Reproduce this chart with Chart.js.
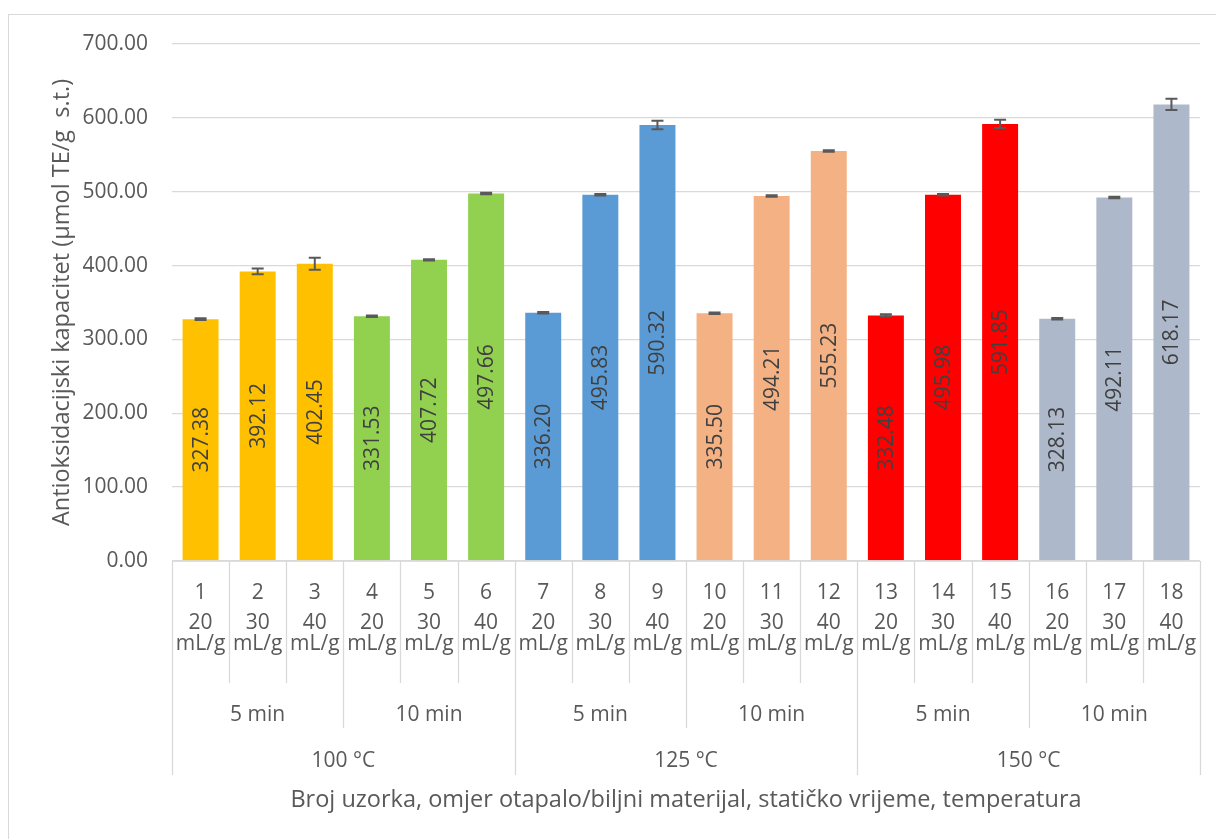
<!DOCTYPE html>
<html>
<head>
<meta charset="utf-8">
<title>Antioksidacijski kapacitet</title>
<script src="https://cdn.jsdelivr.net/npm/chart.js@4.4.1/dist/chart.umd.min.js"></script>
<style>
  body { margin: 0; background: #fff; }
  #wrap { position: relative; width: 1216px; height: 839px; overflow: hidden; }
  #frame { position: absolute; left: 8px; top: 14px; width: 1400px; height: 1000px; border: 1px solid #d9d9d9; box-sizing: border-box; }
  #chart { position: absolute; left: 0; top: 0; }
</style>
</head>
<body>
<div id="wrap">
  <div id="frame"></div>
  <canvas id="chart" width="1216" height="839"></canvas>
</div>
<script>
// sample numbers and the grouping rows of the category axis
const samples = ['1', '2', '3', '4', '5', '6', '7', '8', '9', '10', '11', '12', '13', '14', '15', '16', '17', '18'];
const ratios = ['20 mL/g', '30 mL/g', '40 mL/g'];
const times = ['5 min', '10 min', '5 min', '10 min', '5 min', '10 min'];
const temps = ['100 °C', '125 °C', '150 °C'];

const values = [327.38, 392.12, 402.45, 331.53, 407.72, 497.66, 336.20, 495.83, 590.32,
                335.50, 494.21, 555.23, 332.48, 495.98, 591.85, 328.13, 492.11, 618.17];
// standard deviations
const errors = [1.2, 3.8, 8.0, 1.0, 1.0, 1.0, 1.0, 1.0, 5.9,
                1.0, 1.0, 1.0, 1.5, 1.0, 5.6, 1.0, 1.0, 7.7];

const groupColors = ['#FFC000', '#92D050', '#5B9BD5', '#F4B183', '#FF0000', '#ADB9CA'];

const yTicks = [0, 100, 200, 300, 400, 500, 600, 700];

const FONT = '"Open Sans", "Liberation Sans", sans-serif';
const TEXT = '#595959';
const LABEL_SIZE = 21;
const TITLE_SIZE = 23.5;

const barColors = samples.map((s, i) => groupColors[Math.floor(i / 3)]);

// error bars + value labels inside the bars
const barExtras = {
    id: 'barExtras',
    afterDatasetsDraw(chart) {
        const ctx = chart.ctx;
        const y = chart.scales.y;
        const meta = chart.getDatasetMeta(0);
        ctx.save();
        ctx.strokeStyle = '#595959';
        ctx.lineWidth = 2;
        meta.data.forEach(function (bar, i) {
            const top = y.getPixelForValue(values[i] + errors[i]);
            const bottom = y.getPixelForValue(values[i] - errors[i]);
            ctx.beginPath();
            ctx.moveTo(bar.x, top);
            ctx.lineTo(bar.x, bottom);
            ctx.moveTo(bar.x - 6, top);
            ctx.lineTo(bar.x + 6, top);
            ctx.moveTo(bar.x - 6, bottom);
            ctx.lineTo(bar.x + 6, bottom);
            ctx.stroke();
        });
        ctx.fillStyle = '#404040';
        ctx.font = LABEL_SIZE + 'px ' + FONT;
        ctx.textAlign = 'center';
        ctx.textBaseline = 'middle';
        meta.data.forEach(function (bar, i) {
            ctx.save();
            ctx.translate(bar.x, (bar.y + bar.base) / 2);
            ctx.rotate(-Math.PI / 2);
            ctx.fillText(values[i].toFixed(2), 0, 1);
            ctx.restore();
        });
        ctx.restore();
    }
};

// multi-level category axis, the way Excel draws it
const multiAxis = {
    id: 'multiAxis',
    afterDraw(chart) {
        const ctx = chart.ctx;
        const x = chart.scales.x;
        const base = chart.chartArea.bottom;
        const half = (x.getPixelForValue(1) - x.getPixelForValue(0)) / 2;
        const edge = i => x.getPixelForValue(i) - half;
        ctx.save();
        ctx.strokeStyle = '#d9d9d9';
        ctx.lineWidth = 1.3;
        // axis line
        ctx.beginPath();
        ctx.moveTo(chart.chartArea.left, base);
        ctx.lineTo(chart.chartArea.right, base);
        ctx.stroke();
        for (let i = 0; i <= samples.length; i++) {
            let end = base + 122;
            if (i % 6 === 0) end = base + 214;
            else if (i % 3 === 0) end = base + 167;
            const px = Math.round(edge(i)) + 0.5;
            ctx.beginPath();
            ctx.moveTo(px, base);
            ctx.lineTo(px, end);
            ctx.stroke();
        }
        ctx.fillStyle = TEXT;
        ctx.font = LABEL_SIZE + 'px ' + FONT;
        ctx.textAlign = 'center';
        ctx.textBaseline = 'middle';
        samples.forEach(function (s, i) {
            const cx = x.getPixelForValue(i);
            const r = ratios[i % 3].split(' ');
            ctx.fillText(s, cx, base + 32);
            ctx.fillText(r[0], cx, base + 62);
            ctx.fillText(r[1], cx, base + 83);
        });
        times.forEach(function (t, g) {
            const cx = (edge(g * 3) + edge(g * 3 + 3)) / 2;
            ctx.fillText(t, cx, base + 154);
        });
        temps.forEach(function (t, g) {
            const cx = (edge(g * 6) + edge(g * 6 + 6)) / 2;
            ctx.fillText(t, cx, base + 200);
        });
        ctx.restore();
    }
};

new Chart(document.getElementById('chart'), {
    type: 'bar',
    data: {
        labels: samples,
        datasets: [{
            data: values,
            backgroundColor: barColors,
            borderWidth: 0,
            barPercentage: 0.63,
            categoryPercentage: 1
        }]
    },
    options: {
        responsive: false,
        animation: false,
        layout: { padding: { top: 44, right: 16, left: 0, bottom: 0 } },
        plugins: {
            legend: { display: false },
            tooltip: { enabled: false }
        },
        scales: {
            x: {
                grid: { display: false, drawTicks: false },
                border: { display: false },
                ticks: { display: false },
                title: {
                    display: true,
                    text: 'Broj uzorka, omjer otapalo/biljni materijal, statičko vrijeme, temperatura',
                    color: TEXT,
                    font: { family: FONT, size: TITLE_SIZE },
                    padding: { top: 0, bottom: 25 }
                },
                afterFit(scale) { scale.height = 839 - 561; }
            },
            y: {
                min: 0,
                max: 700,
                afterBuildTicks(scale) { scale.ticks = yTicks.map(v => ({ value: v })); },
                grid: { color: '#d9d9d9', lineWidth: 1.3, drawTicks: false },
                border: { display: false },
                ticks: {
                    color: TEXT,
                    padding: 24,
                    font: { family: FONT, size: LABEL_SIZE },
                    callback: v => v.toFixed(2)
                },
                title: {
                    display: true,
                    text: 'Antioksidacijski kapacitet (µmol TE/g  s.t.)',
                    color: TEXT,
                    font: { family: FONT, size: TITLE_SIZE },
                    padding: { top: 48, bottom: 0 }
                },
                afterFit(scale) { scale.width = 172; }
            }
        }
    },
    plugins: [barExtras, multiAxis]
});
</script>
</body>
</html>
